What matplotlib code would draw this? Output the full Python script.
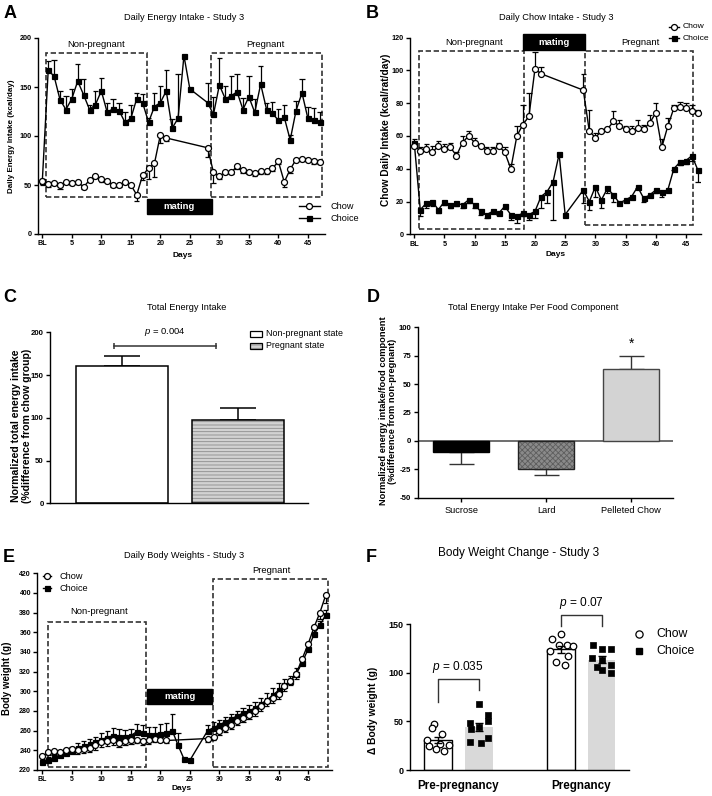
import matplotlib
matplotlib.use('Agg')
import matplotlib.pyplot as plt
from matplotlib.patches import Rectangle
import numpy as np

plt.rcParams['font.family'] = ['Liberation Sans', 'DejaVu Sans']
plt.rcParams['mathtext.fontset'] = 'custom'
plt.rcParams['mathtext.it'] = 'Liberation Sans:italic'
plt.rcParams['mathtext.rm'] = 'Liberation Sans'
plt.rcParams['hatch.linewidth'] = 0.6
plt.rcParams['axes.unicode_minus'] = False

# ---------------- data ----------------
tick_days = [0, 5, 10, 15, 20, 25, 30, 35, 40, 45]
tick_day_labels = ['BL', '5', '10', '15', '20', '25', '30', '35', '40', '45']

# Panel A: Daily Energy Intake
a_chow_days = [0, 1, 2, 3, 4, 5, 6, 7, 8, 9, 10, 11, 12, 13, 14, 15, 16, 17, 18, 19, 20, 21,
               28, 29, 30, 31, 32, 33, 34, 35, 36, 37, 38, 39, 40, 41, 42, 43, 44, 45, 46, 47]
a_chow = [54, 51, 52, 50, 53, 52, 53, 48, 55, 59, 56, 54, 50, 50, 53, 50, 40, 60, 67, 72, 101, 98,
          88, 63, 59, 63, 63, 69, 65, 63, 62, 64, 64, 67, 74, 53, 66, 76, 77, 76, 74, 73]
a_chow_err = [4, 3, 2, 4, 2, 2, 2, 2, 2, 2, 3, 2, 2, 2, 2, 2, 6, 5, 11, 14, 8, 3,
              9, 11, 3, 2, 2, 3, 3, 2, 3, 3, 3, 3, 3, 5, 4, 2, 2, 2, 3, 2]
a_choice_days = [0, 1, 2, 3, 4, 5, 6, 7, 8, 9, 10, 11, 12, 13, 14, 15, 16, 17, 18, 19, 20, 21, 22, 23, 24, 25,
                 28, 29, 30, 31, 32, 33, 34, 35, 36, 37, 38, 39, 40, 41, 42, 43, 44, 45, 46, 47]
a_choice = [54, 167, 161, 137, 127, 138, 156, 142, 127, 132, 146, 124, 128, 126, 114, 118, 138, 134, 114, 130,
            134, 146, 108, 118, 182, 148,
            134, 122, 152, 138, 141, 145, 127, 140, 124, 153, 127, 123, 116, 119, 96, 126, 144, 118, 116, 114]
a_choice_err = [2, 10, 17, 9, 14, 10, 17, 16, 5, 14, 13, 10, 10, 8, 10, 14, 6, 9, 4, 14,
                17, 21, 9, 45, 0, 0,
                20, 18, 28, 13, 20, 18, 12, 21, 14, 18, 7, 12, 12, 13, 5, 10, 14, 12, 13, 10]

# Panel B: Daily Chow Intake
b_chow = [54, 51, 52, 50, 54, 52, 53, 48, 56, 60, 56, 54, 51, 51, 54, 50, 40, 60, 67, 72, 101, 98,
          88, 63, 59, 63, 64, 69, 66, 64, 63, 65, 64, 68, 74, 53, 66, 77, 78, 77, 75, 74]
b_chow_err = [4, 2, 3, 4, 3, 3, 3, 2, 4, 3, 3, 1, 2, 2, 2, 3, 3, 6, 12, 14, 10, 4,
              10, 13, 3, 1, 1, 6, 4, 2, 3, 5, 3, 5, 6, 5, 5, 2, 3, 3, 4, 2]
b_choice = [56, 15, 19, 20, 15, 20, 18, 19, 18, 21, 18, 14, 12, 14, 13, 17, 12, 11, 13, 12,
            14, 23, 26, 32, 49, 12,
            27, 20, 29, 21, 28, 24, 19, 21, 23, 29, 22, 24, 27, 26, 27, 40, 44, 45, 48, 39]
b_choice_err = [2, 4, 3, 3, 2, 2, 2, 2, 2, 2, 2, 2, 2, 1, 1, 1, 3, 4, 2, 3,
                4, 7, 7, 23, 0, 0,
                8, 5, 6, 5, 3, 4, 1, 1, 1, 1, 2, 1, 2, 3, 1, 1, 2, 2, 3, 7]

# Panel C: Total energy intake
c_labels = ['Non-pregnant state', 'Pregnant state']
c_values = [161, 97]
c_err = [11, 15]

# Panel D: per food component
d_labels = ['Sucrose', 'Lard', 'Pelleted Chow']
d_values = [-10, -25, 63]
d_err = [10, 5, 12]

# Panel E: Daily body weights
e_chow_days = [0, 1, 2, 3, 4, 5, 6, 7, 8, 9, 10, 11, 12, 13, 14, 15, 16, 17, 18, 19, 20, 21,
               28, 29, 30, 31, 32, 33, 34, 35, 36, 37, 38, 39, 40, 41, 42, 43, 44, 45, 46, 47, 48]
e_chow = [234, 238, 239, 238, 240, 241, 240, 241, 242, 245, 248, 249, 250, 247, 249, 250, 251, 249, 250, 252, 251, 250,
          252, 254, 260, 263, 266, 270, 273, 276, 280, 285, 290, 293, 297, 305, 311, 318, 333, 348, 365, 380, 398]
e_chow_err = [3, 3, 3, 3, 3, 4, 4, 4, 4, 5, 5, 5, 5, 4, 4, 4, 4, 4, 4, 4, 3, 3,
              4, 4, 4, 4, 4, 4, 4, 4, 5, 5, 5, 5, 5, 5, 5, 5, 5, 5, 6, 6, 8]
e_choice_days = [0, 1, 2, 3, 4, 5, 6, 7, 8, 9, 10, 11, 12, 13, 14, 15, 16, 17, 18, 19, 20, 21, 22, 23, 24, 25,
                 28, 29, 30, 31, 32, 33, 34, 35, 36, 37, 38, 39, 40, 41, 42, 43, 44, 45, 46, 47, 48]
e_choice = [228, 230, 232, 235, 237, 239, 242, 244, 246, 248, 251, 253, 255, 254, 254, 255, 259, 258, 256, 256,
            257, 258, 260, 245, 231, 230,
            260, 263, 266, 269, 272, 275, 278, 280, 283, 287, 291, 296, 301, 306, 310, 318, 329, 343, 358, 367, 378]
e_choice_err = [2, 3, 3, 3, 4, 4, 5, 5, 6, 6, 7, 7, 8, 8, 7, 7, 8, 8, 8, 8,
                10, 10, 17, 13, 0, 0,
                6, 6, 5, 5, 5, 5, 5, 6, 6, 6, 7, 7, 7, 7, 6, 6, 5, 5, 5, 5, 5]

# Panel F: body weight change
f_groups = ['Pre-pregnancy', 'Pregnancy']
f_pre_chow = [47, 43, 37, 31, 27, 26, 25, 22, 20]
f_pre_choice = [68, 57, 50, 48, 44, 42, 33, 29, 28]
f_preg_chow = [140, 135, 128, 128, 127, 122, 117, 111, 108]
f_preg_choice = [128, 124, 124, 115, 113, 108, 106, 103, 100]
f_p_texts = ['$p$ = 0.035', '$p$ = 0.07']

# jitter offsets for the dots (layout only)
jit_pre_chow = [-0.08, -0.14, 0.10, -0.25, 0.05, 0.28, -0.20, -0.05, 0.15]
jit_pre_choice = [0.0, 0.22, 0.24, -0.20, 0.0, -0.18, 0.22, -0.22, 0.05]
jit_preg_chow = [0.02, -0.22, 0.15, -0.05, 0.30, -0.26, 0.18, -0.10, 0.10]
jit_preg_choice = [-0.22, 0.0, 0.22, -0.24, 0.0, 0.22, -0.10, 0.02, 0.22]

# ---------------- figure ----------------
W, H = 712, 796
fig = plt.figure(figsize=(W / 100, H / 100), dpi=100)


def add_ax(l, t, r, b):
    return fig.add_axes([l / W, 1 - b / H, (r - l) / W, (b - t) / H])


def ftext(x, y, s, **kw):
    kw.setdefault('ha', 'center')
    kw.setdefault('va', 'center')
    fig.text(x / W, 1 - y / H, s, **kw)


def style(ax, fs=5.2, bold=True):
    for s in ['top', 'right']:
        ax.spines[s].set_visible(False)
    for s in ['left', 'bottom']:
        ax.spines[s].set_linewidth(1.0)
    ax.tick_params(direction='out', length=3, width=1, labelsize=fs, pad=1.5)
    if bold:
        for lab in ax.get_xticklabels() + ax.get_yticklabels():
            lab.set_fontweight('bold')


def one_sided(ax, x, y, err, sign, cap):
    x = np.asarray(x, float); y = np.asarray(y, float); e = np.asarray(err, float)
    m = e > 0
    x, y, e = x[m], y[m], e[m]
    tip = y + sign * e
    ax.vlines(x, y, tip, color='black', lw=0.9, zorder=2)
    ax.hlines(tip, x - cap, x + cap, color='black', lw=0.9, zorder=2)


def dashed_box(ax, x0, x1, y0, y1):
    ax.add_patch(Rectangle((x0, y0), x1 - x0, y1 - y0, fill=False, edgecolor='#333333',
                           lw=1.2, linestyle=(0, (3.2, 1.6)), clip_on=False, zorder=1))


def mating_box(ax, x0, x1, y0, y1):
    ax.add_patch(Rectangle((x0, y0), x1 - x0, y1 - y0, facecolor='black', edgecolor='black',
                           clip_on=False, zorder=3))
    ax.text((x0 + x1) / 2, (y0 + y1) / 2, 'mating', color='white', fontsize=6.8,
            fontweight='bold', ha='center', va='center', zorder=4)


def series(ax, days, vals, marker, face, ms, z):
    ax.plot(days, vals, '-', color='black', lw=1.0, marker=marker, ms=ms, mfc=face,
            mec='black', mew=0.9, zorder=z, clip_on=False)


# ---------- Panel A ----------
axA = add_ax(38, 38, 325, 234)
one_sided(axA, a_choice_days, a_choice, a_choice_err, +1, 0.45)
one_sided(axA, a_chow_days, a_chow, a_chow_err, -1, 0.45)
series(axA, a_choice_days, a_choice, 's', 'black', 3.6, 4)
series(axA, a_chow_days, a_chow, 'o', 'white', 4.3, 5)
dashed_box(axA, 0.6, 17.7, 38, 185)
dashed_box(axA, 28.5, 47.45, 38, 185)
mating_box(axA, 17.7, 28.7, 20, 35.7)
axA.text(9.2, 193, 'Non-pregnant', fontsize=6.8, ha='center', va='center')
axA.text(37.8, 193, 'Pregnant', fontsize=6.8, ha='center', va='center')
axA.set_xlim(-0.73, 47.9)
axA.set_ylim(0, 200)
axA.set_xticks(tick_days)
axA.set_xticklabels(tick_day_labels)
axA.set_yticks([0, 50, 100, 150, 200])
style(axA)
# legend A
for yy, mk, fc, lab, ms in [(28.5, 'o', 'white', 'Chow', 4.3), (16.3, 's', 'black', 'Choice', 3.6)]:
    axA.plot([43.5, 47.0], [yy, yy], '-', color='black', lw=1, clip_on=False)
    axA.plot([45.25], [yy], marker=mk, mfc=fc, mec='black', mew=0.9, ms=ms, clip_on=False)
    axA.text(48.8, yy, lab, fontsize=6.6, ha='left', va='center')
ftext(184, 18, 'Daily Energy Intake - Study 3', fontsize=6.7)
ftext(183, 255, 'Days', fontsize=6, fontweight='bold')
ftext(11.5, 136, 'Daily Energy Intake (kcal/day)', rotation=90, fontsize=5.8, fontweight='bold')
ftext(10, 13, 'A', fontsize=13, fontweight='bold')

# ---------- Panel B ----------
axB = add_ax(410, 37.7, 701, 234.3)
one_sided(axB, a_chow_days, b_chow, b_chow_err, +1, 0.45)
one_sided(axB, a_choice_days, b_choice, b_choice_err, -1, 0.45)
series(axB, a_choice_days, b_choice, 's', 'black', 3.6, 4)
series(axB, a_chow_days, b_chow, 'o', 'white', 4.3, 5)
dashed_box(axB, 0.82, 18.1, 3, 112)
dashed_box(axB, 28.3, 46.2, 5.5, 112)
mating_box(axB, 18.0, 28.3, 112.5, 122)
axB.text(9.9, 117, 'Non-pregnant', fontsize=6.8, ha='center', va='center')
axB.text(37.4, 117, 'Pregnant', fontsize=6.8, ha='center', va='center')
axB.set_xlim(-0.7, 47.5)
axB.set_ylim(0, 120)
axB.set_xticks(tick_days)
axB.set_xticklabels(tick_day_labels)
axB.set_yticks([0, 20, 40, 60, 80, 100, 120])
style(axB)
for yy, mk, fc, lab, ms in [(126.7, 'o', 'white', 'Chow', 4.3), (119.7, 's', 'black', 'Choice', 3.6)]:
    axB.plot([42.2, 43.9], [yy, yy], '-', color='black', lw=1, clip_on=False)
    axB.plot([43.05], [yy], marker=mk, mfc=fc, mec='black', mew=0.9, ms=ms, clip_on=False)
    axB.text(44.5, yy, lab, fontsize=6.1, ha='left', va='center')
ftext(556, 18, 'Daily Chow Intake - Study 3', fontsize=6.7)
ftext(556, 254, 'Days', fontsize=6, fontweight='bold')
ftext(386, 130, 'Chow Daily Intake (kcal/rat/day)', rotation=90, fontsize=7.3, fontweight='bold')
ftext(372, 13, 'B', fontsize=13, fontweight='bold')

# ---------- Panel C ----------
axC = add_ax(50, 332.3, 308, 503.3)
cx = [0, 1]
axC.bar(cx[0], c_values[0], width=0.79, color='white', edgecolor='black', lw=1.1, zorder=2)
axC.bar(cx[1], c_values[1], width=0.79, color='#d2d2d2', edgecolor='#8c8c8c', hatch='-----', lw=0, zorder=2)
axC.bar(cx[1], c_values[1], width=0.79, fill=False, edgecolor='black', lw=1.1, zorder=3)
axC.errorbar(cx, c_values, yerr=[[0, 0], c_err], fmt='none', ecolor='black', elinewidth=1.1,
             capsize=13, capthick=1.1, zorder=1)
axC.plot([-0.07, 0.81], [184, 184], '-', color='#333333', lw=1.1, marker='|', ms=5, mew=1.1)
axC.text(0.37, 193, '$p$ = 0.004', fontsize=6.8, ha='center', va='bottom')
axC.set_xlim(-0.62, 1.6)
axC.set_ylim(0, 200)
axC.set_xticks([])
axC.set_yticks([0, 50, 100, 150, 200])
style(axC, fs=5.6)
# legend C
fig.add_artist(Rectangle((250 / W, 1 - 337.3 / H), 12 / W, 6.5 / H, transform=fig.transFigure,
                         facecolor='white', edgecolor='black', lw=0.9))
fig.add_artist(Rectangle((250 / W, 1 - 349 / H), 12 / W, 6.5 / H, transform=fig.transFigure,
                         facecolor='#d2d2d2', edgecolor='#8c8c8c', hatch='-----', lw=0))
fig.add_artist(Rectangle((250 / W, 1 - 349 / H), 12 / W, 6.5 / H, transform=fig.transFigure,
                         fill=False, edgecolor='black', lw=0.9))
ftext(266, 334, c_labels[0], fontsize=6.4, ha='left')
ftext(266, 345.7, c_labels[1], fontsize=6.4, ha='left')
ftext(187, 308, 'Total Energy Intake', fontsize=6.7)
ftext(21.5, 426, 'Normalized total energy intake\n(%difference from chow group)', rotation=90,
      fontsize=7.6, fontweight='bold', linespacing=1.05)
ftext(10, 297, 'C', fontsize=13, fontweight='bold')

# ---------- Panel D ----------
axD = add_ax(417.7, 327.3, 672.7, 497.7)
dx = [0, 1, 2]
axD.bar(dx[0], d_values[0], width=0.667, color='black', edgecolor='black', lw=1, zorder=2)
axD.bar(dx[1], d_values[1], width=0.667, color='#8a8a8a', edgecolor='#5e5e5e', hatch='xxxxxx', lw=0, zorder=2)
axD.bar(dx[1], d_values[1], width=0.667, fill=False, edgecolor='#222222', lw=1, zorder=3)
axD.bar(dx[2], d_values[2], width=0.667, color='#d3d3d3', edgecolor='#444444', lw=1, zorder=2)
lower = [d_err[i] if d_values[i] < 0 else 0 for i in range(3)]
upper = [d_err[i] if d_values[i] >= 0 else 0 for i in range(3)]
axD.errorbar(dx, d_values, yerr=[lower, upper], fmt='none', ecolor='#333333', elinewidth=1,
             capsize=9, capthick=1, zorder=1)
axD.axhline(0, color='#555555', lw=1.2, zorder=1)
axD.text(dx[2], 79, '*', fontsize=10, ha='center', va='bottom')
axD.set_xlim(-0.51, 2.49)
axD.set_ylim(-50, 100)
axD.set_xticks(dx)
axD.set_xticklabels(d_labels)
axD.set_yticks([-50, -25, 0, 25, 50, 75, 100])
style(axD, fs=5.6)
axD.tick_params(axis='x', labelsize=6.7, pad=3)
for lab in axD.get_xticklabels():
    lab.set_fontweight('normal')
ftext(533, 308, 'Total Energy Intake Per Food Component', fontsize=6.7)
ftext(388, 411, 'Normalized energy intake/food component\n(%difference from non-pregnant)', rotation=90,
      fontsize=6.7, fontweight='bold', linespacing=1.0)
ftext(373, 298, 'D', fontsize=13, fontweight='bold')

# ---------- Panel E ----------
axE = add_ax(37.3, 573.3, 331.7, 770)
one_sided(axE, e_choice_days, e_choice, e_choice_err, +1, 0.45)
one_sided(axE, e_chow_days, e_chow, e_chow_err, -1, 0.45)
series(axE, e_choice_days, e_choice, 's', 'black', 3.6, 4)
series(axE, e_chow_days, e_chow, 'o', 'white', 4.3, 5)
dashed_box(axE, 0.9, 17.5, 223.4, 370)
dashed_box(axE, 28.9, 48.4, 223.4, 414)
mating_box(axE, 17.8, 28.8, 287, 302)
axE.text(9.6, 381, 'Non-pregnant', fontsize=6.8, ha='center', va='center')
axE.text(38.8, 423, 'Pregnant', fontsize=6.8, ha='center', va='center', clip_on=False)
axE.set_xlim(-0.85, 49)
axE.set_ylim(220, 420)
axE.set_xticks(tick_days)
axE.set_xticklabels(tick_day_labels)
axE.set_yticks(list(range(220, 421, 20)))
style(axE, fs=5.0)
for yy, mk, fc, lab, ms in [(417, 'o', 'white', 'Chow', 4.3), (405, 's', 'black', 'Choice', 3.6)]:
    axE.plot([0.05, 1.5], [yy, yy], '-', color='black', lw=1, clip_on=False)
    axE.plot([0.78], [yy], marker=mk, mfc=fc, mec='black', mew=0.9, ms=ms, clip_on=False)
    axE.text(2.9, yy, lab, fontsize=6.6, ha='left', va='center')
ftext(184, 556, 'Daily Body Weights - Study 3', fontsize=6.7)
ftext(182, 789, 'Days', fontsize=6, fontweight='bold')
ftext(7.5, 678, 'Body weight (g)', rotation=90, fontsize=7.0, fontweight='bold')
ftext(9, 558, 'E', fontsize=13, fontweight='bold')

# ---------- Panel F ----------
axF = add_ax(410, 624, 629, 770)
fx = [0, 1, 3, 4]
groups = [f_pre_chow, f_pre_choice, f_preg_chow, f_preg_choice]
jits = [jit_pre_chow, jit_pre_choice, jit_preg_chow, jit_preg_choice]
means = [np.mean(g) for g in groups]
sems = [np.std(g, ddof=1) / np.sqrt(len(g)) for g in groups]
for i, (x, g, j, mval) in enumerate(zip(fx, groups, jits, means)):
    if i % 2 == 0:
        axF.bar(x, mval, width=0.68, color='white', edgecolor='black', lw=1.0, zorder=1)
        axF.scatter(np.array(j) + x, g, s=22, marker='o', facecolor='white', edgecolor='black',
                    lw=0.9, zorder=3, clip_on=False)
    else:
        axF.bar(x, mval, width=0.68, color='#d9d9d9', edgecolor='none', lw=0, zorder=1)
        axF.scatter(np.array(j) + x, g, s=16, marker='s', facecolor='black', edgecolor='black',
                    lw=0.5, zorder=3, clip_on=False)
axF.errorbar(fx, means, yerr=sems, fmt='none', ecolor='black', elinewidth=1, capsize=3,
             capthick=1, zorder=4)
# brackets
axF.plot([0, 0, 1, 1], [70, 93, 93, 82], '-', color='#333333', lw=1, clip_on=False)
axF.plot([3, 3, 4, 4], [148, 159, 159, 148], '-', color='#333333', lw=1, clip_on=False)
axF.text(0.5, 106, f_p_texts[0], fontsize=8.6, ha='center', va='center')
axF.text(3.5, 172, f_p_texts[1], fontsize=8.6, ha='center', va='center', clip_on=False)
axF.set_xlim(-0.675, 4.67)
axF.set_ylim(0, 150)
axF.set_xticks([0.5, 3.5])
axF.set_xticklabels(f_groups)
axF.set_yticks([0, 50, 100, 150])
style(axF, fs=6.5)
axF.tick_params(axis='x', length=0, labelsize=8.4, pad=7)
for lab in axF.get_xticklabels():
    lab.set_fontweight('bold')
# legend F
fig.add_artist(plt.Line2D([639.3 / W], [1 - 634 / H], marker='o', mfc='white', mec='black', mew=0.9,
                          ms=5.2, transform=fig.transFigure))
fig.add_artist(plt.Line2D([639.3 / W], [1 - 651 / H], marker='s', mfc='black', mec='black',
                          ms=4.2, transform=fig.transFigure))
ftext(656, 634, 'Chow', fontsize=8.8, ha='left')
ftext(656, 651, 'Choice', fontsize=8.8, ha='left')
ftext(519, 553, 'Body Weight Change - Study 3', fontsize=8.5)
ftext(373, 710, '\u0394 Body weight (g)', rotation=90, fontsize=7.4, fontweight='bold')
ftext(371, 558, 'F', fontsize=13, fontweight='bold')

fig.savefig('out.png', dpi=100)
